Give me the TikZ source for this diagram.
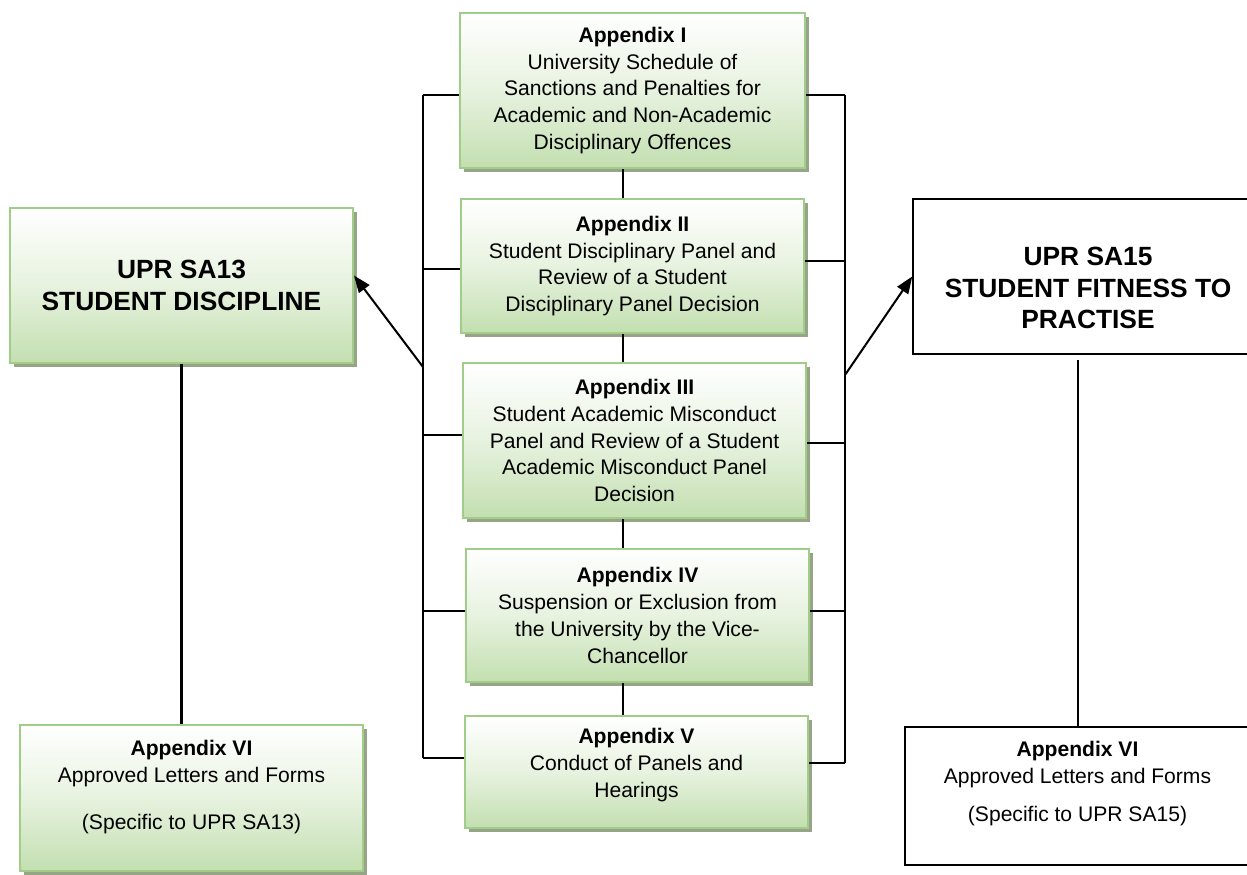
\documentclass[tikz,border=0pt]{standalone}
\usepackage{fontspec}
\setmainfont{Liberation Sans}
\usetikzlibrary{positioning}
\usetikzlibrary{shadows}
\usetikzlibrary{arrows.meta}

\definecolor{boxgreen}{RGB}{195,223,176}
\definecolor{edgegreen}{RGB}{160,205,135}
\definecolor{shadegreen}{RGB}{152,164,136}

\newcommand{\padbelow}[1]{\rule[-#1]{0pt}{#1}}
\newcommand{\padabove}[1]{\rule{0pt}{#1}}

\begin{document}
\begin{tikzpicture}
      [
        x=0.02cm, y=-0.02cm,
        appbox/.style = {draw=edgegreen, line width=1.2pt,
            top color=white, bottom color=boxgreen, middle color=boxgreen!40!white,
            drop shadow={shadow xshift=0.08cm, shadow yshift=-0.08cm, fill=shadegreen, opacity=1},
            align=center, minimum width=6.86cm, font=\fontsize{12}{15.3}\selectfont},
        plainbox/.style = {draw=black, line width=0.9pt, fill=white, align=center,
            font=\fontsize{12}{15.3}\selectfont},
        upr/.style = {font=\fontsize{15}{18}\selectfont\bfseries},
        link/.style = {line width=1.15pt},
        arrow/.style = {line width=1.15pt, -{Triangle[length=0.34cm,width=0.26cm]}}
      ]

      \useasboundingbox (0,0) rectangle (1247,875);

      % the two regulations
      \node[appbox, upr, minimum height=3.1cm] (sa13) at (181.5,285.5) {UPR SA13\\STUDENT DISCIPLINE};
      \node[plainbox, upr, minimum width=7cm, minimum height=3.1cm] (sa15) at (1088,276.5)
        {\padabove{23.7pt}UPR SA15\\STUDENT FITNESS TO\\PRACTISE};

      % shared appendices
      \node[appbox, minimum width=6.9cm, minimum height=3.1cm] (app1) at (632.5,90.5)
        {\textbf{Appendix I}\\University Schedule of\\Sanctions and Penalties for\\Academic and Non-Academic\\Disciplinary Offences};
      \node[appbox, minimum height=2.68cm] (app2) at (632.5,266)
        {\textbf{Appendix II}\\Student Disciplinary Panel and\\Review of a Student\\Disciplinary Panel Decision};
      \node[appbox, minimum height=3.1cm] (app3) at (634.5,440.5)
        {\textbf{Appendix III}\\Student Academic Misconduct\\Panel and Review of a Student\\Academic Misconduct Panel\\Decision};
      \node[appbox, minimum height=2.66cm] (app4) at (637.5,615.5)
        {\textbf{Appendix IV}\\Suspension or Exclusion from\\the University by the Vice-\\Chancellor};
      \node[appbox, minimum height=2.24cm] (app5) at (636.5,772)
        {\textbf{Appendix V}\\Conduct of Panels and\\Hearings\padbelow{10.5pt}};

      % letters and forms
      \node[appbox, minimum height=2.92cm] (app6l) at (191.5,798)
        {\textbf{Appendix VI}\\Approved Letters and Forms\\[11.9pt](Specific to UPR SA13)\padbelow{15pt}};
      \node[plainbox, minimum width=6.9cm, minimum height=2.76cm] (app6r) at (1077.5,796)
        {\textbf{Appendix VI}\\Approved Letters and Forms\\[6.2pt](Specific to UPR SA15)\padbelow{17pt}};

      % middle column
      \coordinate (spine) at (623,0);
      \draw[link] (app1.south -| spine) -- (app2.north -| spine);
      \draw[link] (app2.south -| spine) -- (app3.north -| spine);
      \draw[link] (app3.south -| spine) -- (app4.north -| spine);
      \draw[link] (app4.south -| spine) -- (app5.north -| spine);

      % left bus
      \coordinate (lb1) at (423,95);
      \coordinate (lb2) at (423,269);
      \coordinate (lb3) at (423,435);
      \coordinate (lb4) at (423,611);
      \coordinate (lb5) at (423,758);
      \draw[link] (lb1) -- (lb5);
      \draw[link] (lb1) -- (lb1 -| app1.west);
      \draw[link] (lb2) -- (lb2 -| app2.west);
      \draw[link] (lb3) -- (lb3 -| app3.west);
      \draw[link] (lb4) -- (lb4 -| app4.west);
      \draw[link] (lb5) -- (lb5 -| app5.west);

      % right bus
      \coordinate (rb1) at (845,95);
      \coordinate (rb2) at (845,261);
      \coordinate (rb3) at (845,443);
      \coordinate (rb4) at (845,611);
      \coordinate (rb5) at (845,763);
      \draw[link] (rb1) -- (rb5);
      \draw[link] (rb1 -| app1.east) -- (rb1);
      \draw[link] (rb2 -| app2.east) -- (rb2);
      \draw[link] (rb3 -| app3.east) -- (rb3);
      \draw[link] (rb4 -| app4.east) -- (rb4);
      \draw[link] (rb5 -| app5.east) -- (rb5);

      % arrows to the regulations
      \coordinate (la) at (423,367);
      \coordinate (ra) at (845,375);
      \draw[arrow] (la) -- ([yshift=0.2cm]sa13.east);
      \draw[arrow] (ra) -- (sa15.west);

      \draw[link] (sa13.south) -- (sa13.south |- app6l.north);
      \draw[link] ([yshift=-0.1cm]sa15.south -| app6r.north) -- (app6r.north);

    \end{tikzpicture}
\end{document}
